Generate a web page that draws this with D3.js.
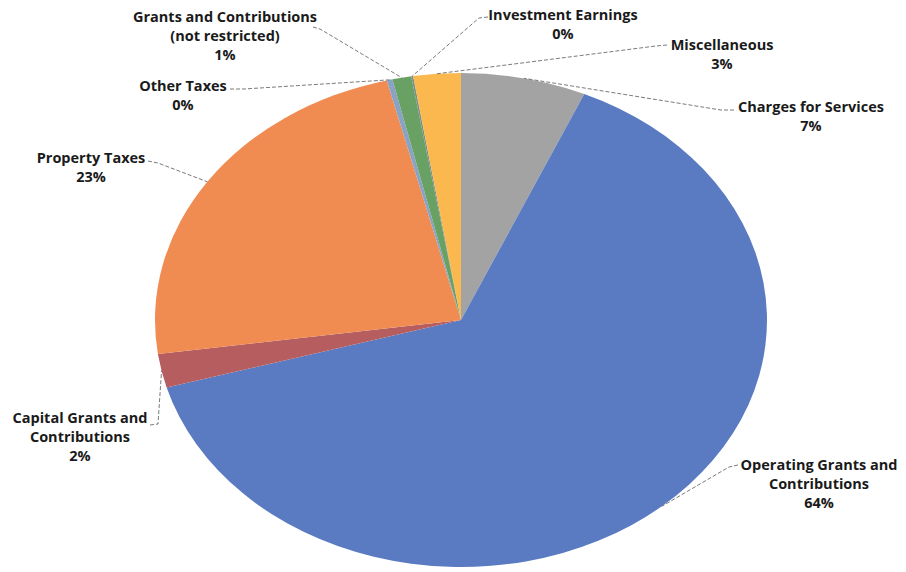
<!DOCTYPE html>
<html>
<head>
<meta charset="utf-8">
<script src="https://cdn.jsdelivr.net/npm/d3@7/dist/d3.min.js"></script>
<style>
  html, body { margin: 0; padding: 0; background: #fff; }
  svg { display: block; }
  text { font-family: "Open Sans", "DejaVu Sans", sans-serif; font-weight: 700; font-size: 14.5px; fill: #1a1a1a; }
</style>
</head>
<body>
<svg id="chart" width="906" height="572"></svg>
<script>
// ---- data ----
const categories = [
  "Charges for Services",
  "Operating Grants and|Contributions",
  "Capital Grants and|Contributions",
  "Property Taxes",
  "Other Taxes",
  "Grants and Contributions|(not restricted)",
  "Investment Earnings",
  "Miscellaneous"
];
const values = [6.6, 64.0, 2.2, 23.3, 0.3, 1.0, 0.1, 2.5];
const colors = ["#a3a3a3", "#5a7bc2", "#b65d60", "#f08b52", "#8aa3c4", "#69a165", "#7c8f86", "#fbb84e"];

// ---- layout (label placement) ----
const labelLayout = [
  { cx: 811, y: 112, start: [734, 110], elbow: [721, 110] },
  { cx: 819, y: 470, start: [738, 465], elbow: [729, 467] },
  { cx: 80,  y: 423, start: [150, 425], elbow: [158, 424] },
  { cx: 91,  y: 163, start: [148, 161], elbow: [158, 163] },
  { cx: 183, y: 91,  start: [230, 89],  elbow: [244, 89] },
  { cx: 225, y: 22,  start: [313, 27],  elbow: [320, 29] },
  { cx: 563, y: 20,  start: [488, 17],  elbow: [479, 18] },
  { cx: 722, y: 50,  start: [667, 45],  elbow: [656, 46] }
];
const lineH = 19;

const cx = 461, cy = 320, rx = 306, ry = 247;

const svg = d3.select("#chart");
const pie = d3.pie().value(d => d).sort(null).startAngle(0).endAngle(2 * Math.PI);
const arcs = pie(values);
const arc = d3.arc().innerRadius(0).outerRadius(ry);

const g = svg.append("g")
  .attr("transform", `translate(${cx},${cy}) scale(${rx / ry},1)`);

g.selectAll("path.slice")
  .data(arcs)
  .join("path")
  .attr("class", "slice")
  .attr("d", arc)
  .attr("fill", (d, i) => colors[i]);

// leader lines
function edgePoint(d) {
  const a = (d.startAngle + d.endAngle) / 2;
  return [cx + rx * Math.sin(a), cy - ry * Math.cos(a)];
}
const line = d3.line();
svg.append("g").selectAll("path.leader")
  .data(arcs)
  .join("path")
  .attr("class", "leader")
  .attr("fill", "none")
  .attr("stroke", "#6b6b6b")
  .attr("stroke-width", 0.9)
  .attr("stroke-dasharray", "4,2")
  .attr("d", (d, i) => {
    const L = labelLayout[i];
    return line([L.start, L.elbow, edgePoint(d)]);
  });

// labels
const fmt = v => Math.round(v) + "%";
const labels = svg.append("g").selectAll("text.label")
  .data(arcs)
  .join("text")
  .attr("class", "label")
  .attr("text-anchor", "middle");
labels.each(function(d, i) {
  const L = labelLayout[i];
  const lines = categories[i].split("|").concat([fmt(d.data)]);
  d3.select(this).selectAll("tspan")
    .data(lines)
    .join("tspan")
    .attr("x", L.cx)
    .attr("y", (t, k) => L.y + k * lineH)
    .text(t => t);
});
</script>
</body>
</html>
